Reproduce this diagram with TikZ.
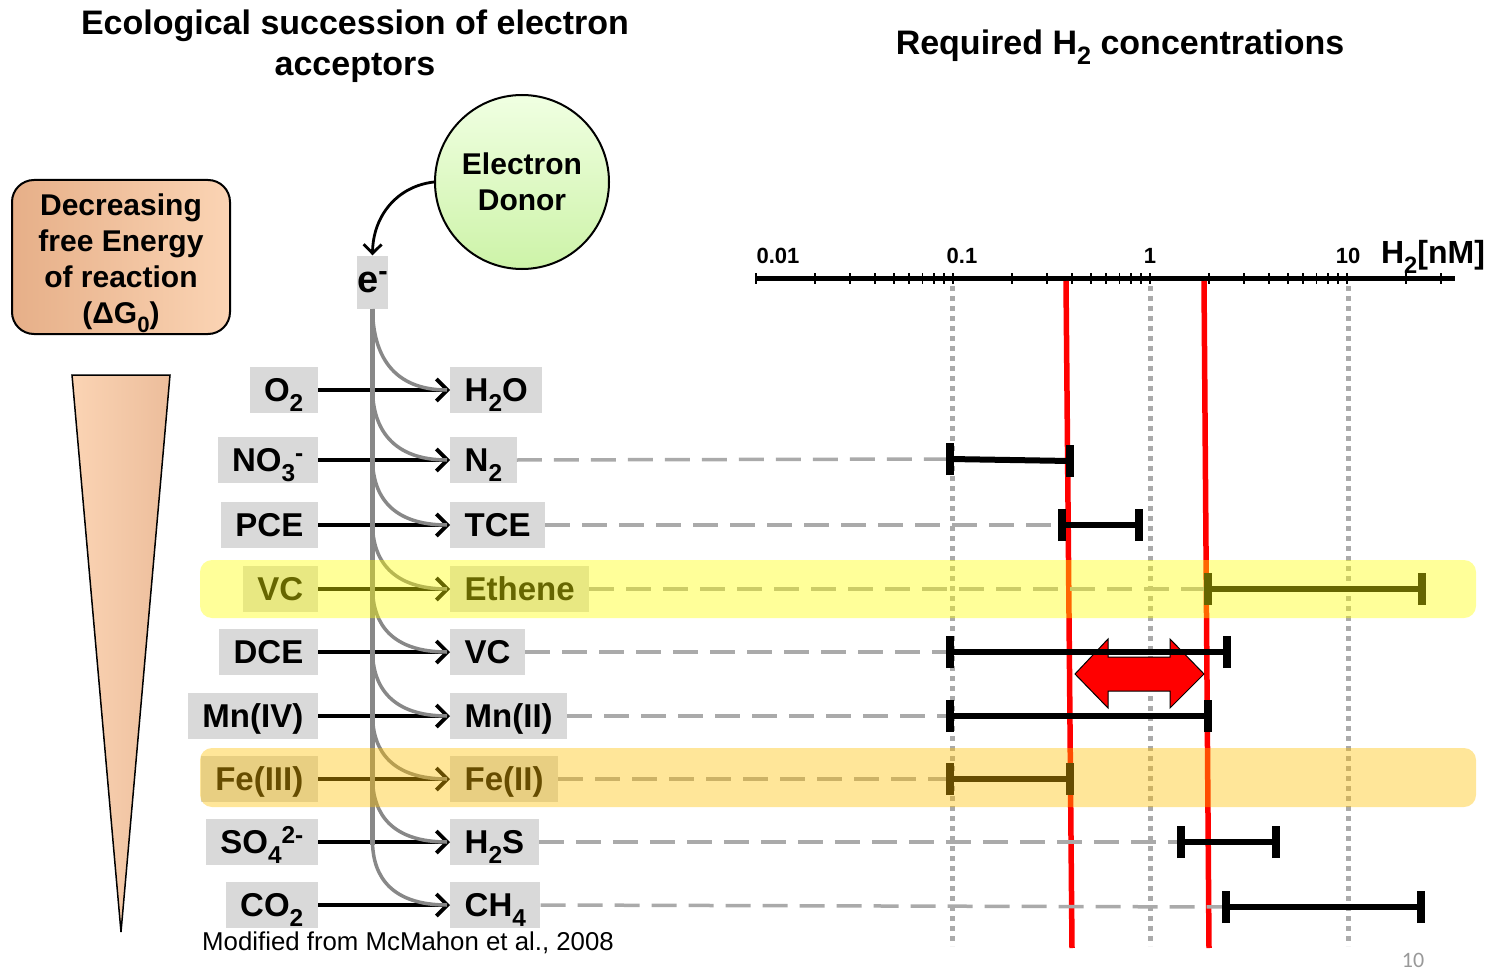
\documentclass[tikz,border=0pt]{standalone}
\usepackage{fontspec}
\setmainfont{Liberation Sans}
\newfontfamily\calfont{Carlito}
\usetikzlibrary{arrows.meta}
\newcommand\dn[1]{\raisebox{-0.3em}{\scalebox{0.74}{#1}}}
\newcommand\upx[1]{\raisebox{0.3em}{\scalebox{0.74}{#1}}}
\newcommand\fsz[2]{\fontsize{#1}{#2}\selectfont}
\definecolor{lgray}{HTML}{D9D9D9}
\definecolor{spinegray}{HTML}{888888}
\definecolor{dashgray}{HTML}{AAAAAA}
\definecolor{peachA}{HTML}{E6AF88}
\definecolor{peachB}{HTML}{FBD4B4}
\definecolor{peachC}{HTML}{ECBD9B}
\definecolor{greenA}{HTML}{F0FFE2}
\definecolor{greenB}{HTML}{CDF3A8}
\definecolor{hlyellow}{HTML}{FFFF00}
\definecolor{hlorange}{HTML}{FFC000}
\begin{document}
\begin{tikzpicture}[x=1pt,y=-1pt,
  lbl/.style={fill=lgray, font=\bfseries\fsz{33}{36}, text height=23.5pt, text depth=0pt,
    minimum height=46pt, inner xsep=14.5pt, inner ysep=0pt},
  flow/.style={line width=3.8pt, -{Straight Barb[length=11pt,width=22pt,line width=3.8pt]}},
  curv/.style={line width=3.5pt, spinegray},
  dsh/.style={line width=3.5pt, dashgray, dash pattern=on 25pt off 12pt},
  dotv/.style={line width=5pt, dashgray, dash pattern=on 5pt off 5pt},
  redl/.style={line width=5.5pt, red},
  rng/.style={line width=6pt},
  rngcap/.style={line width=8pt},
  hl/.style={rounded corners=12pt, fill opacity=0.4}]
\useasboundingbox (0,0) rectangle (1492,971);

% titles
\node[font=\bfseries\fsz{34}{41}, align=center] (T1) at (355,46) {Ecological succession of electron\\acceptors};
\node[font=\bfseries\fsz{34}{36}] (T2) at (1120,47) {Required H\dn{2} concentrations};

% energy box and triangle
\node[draw, line width=2pt, rounded corners=22pt, left color=peachA, right color=peachB,
  minimum width=218pt, minimum height=154pt] (B) at (121,257) {};
\node[align=center, font=\bfseries\fsz{30}{36}] (Bt) at (121,263) {Decreasing\\free Energy\\of reaction\\(ΔG\dn{0})};
\draw[black, line width=1.5pt, left color=peachB, right color=peachC] (72,375) -- (170,375) -- (121,932) -- cycle;

% electron donor
\node[draw, line width=2pt, circle, minimum size=174pt, top color=greenA, bottom color=greenB,
  align=center, font=\bfseries\fsz{30}{36}] (D) at (522,182) {Electron\\Donor};
\node[fill=lgray, minimum width=31pt, minimum height=53pt, inner sep=0pt, font=\bfseries\fsz{38}{40}] (e) at (372.5,282) {e\upx{-}};
\draw[line width=2.8pt, -{Straight Barb[length=9pt,width=18pt,line width=2.8pt]}]
  (D.west) .. controls (398,186) and (373,215) .. (e.north);

% grid lines (dotted)
\draw[dotv] (952,286) -- (952,946);
\draw[dotv] (1150,286) -- (1150,946);
\draw[dotv] (1348,286) -- (1348,946);

% axis
\draw[line width=5pt] (756,278) -- (1455,278);
\foreach \k in {0,1,2,3}{
  \foreach \m in {1,...,9}{
    \pgfmathsetmacro\xx{756+197*\k+197*ln(\m)/ln(10)}
    \ifdim\xx pt<1452pt
      \draw[line width=1.8pt] (\xx,273) -- (\xx,284);
    \fi
  }
}
\node[font=\bfseries\fsz{22}{24}] (a1) at (778,256) {0.01};
\node[font=\bfseries\fsz{22}{24}] (a2) at (962,256) {0.1};
\node[font=\bfseries\fsz{22}{24}] (a3) at (1150,256) {1};
\node[font=\bfseries\fsz{22}{24}] (a4) at (1348,256) {10};
\node[font=\bfseries\fsz{32}{34}] (a5) at (1433,257) {H\dn{2}[nM]};

% red threshold lines
\draw[redl] (1066,281) -- (1072,948);
\draw[redl] (1204,281) -- (1209,948);

% labels
\node[lbl,anchor=east] (L1) at (318,390) {O\dn{2}};
\node[lbl,anchor=east] (L2) at (318,460) {NO\dn{3}\upx{-}};
\node[lbl,anchor=east] (L3) at (318,525) {PCE};
\node[lbl,anchor=east] (L4) at (318,589) {VC};
\node[lbl,anchor=east] (L5) at (318,652) {DCE};
\node[lbl,anchor=east] (L6) at (318,716) {Mn(IV)};
\node[lbl,anchor=east] (L7) at (318,779) {Fe(III)};
\node[lbl,anchor=east] (L8) at (318,842) {SO\dn{4}\upx{2-}};
\node[lbl,anchor=east] (L9) at (318,905) {CO\dn{2}};
\node[lbl,anchor=west] (R1) at (450,390) {H\dn{2}O};
\node[lbl,anchor=west] (R2) at (450,460) {N\dn{2}};
\node[lbl,anchor=west] (R3) at (450,525) {TCE};
\node[lbl,anchor=west] (R4) at (450,589) {Ethene};
\node[lbl,anchor=west] (R5) at (450,652) {VC};
\node[lbl,anchor=west] (R6) at (450,716) {Mn(II)};
\node[lbl,anchor=west] (R7) at (450,779) {Fe(II)};
\node[lbl,anchor=west] (R8) at (450,842) {H\dn{2}S};
\node[lbl,anchor=west] (R9) at (450,905) {CH\dn{4}};

% range bar end points
\coordinate (b2a) at (950,459); \coordinate (b2b) at (1070,461);
\coordinate (b3a) at (1062,525); \coordinate (b3b) at (1139,525);
\coordinate (b4a) at (1208,589); \coordinate (b4b) at (1422,589);
\coordinate (b5a) at (950,652); \coordinate (b5b) at (1227,652);
\coordinate (b6a) at (950,716); \coordinate (b6b) at (1208,716);
\coordinate (b7a) at (950,779); \coordinate (b7b) at (1070,779);
\coordinate (b8a) at (1181,842); \coordinate (b8b) at (1276,842);
\coordinate (b9a) at (1226,907); \coordinate (b9b) at (1421,907);

% dashed leaders
\draw[dsh] (R2.east) -- (b2a);
\draw[dsh] (R3.east) -- (b3a);
\draw[dsh] (R4.east) -- (b4a);
\draw[dsh] (R5.east) -- (b5a);
\draw[dsh] (R6.east) -- (b6a);
\draw[dsh] (R7.east) -- (b7a);
\draw[dsh] (R8.east) -- (b8a);
\draw[dsh] (R9.east) -- (b9a);

% red double arrow
\draw[fill=red, line width=1pt] (1075,674) -- (1108,639) -- (1108,657) -- (1170,657) -- (1170,639)
  -- (1204,674) -- (1170,708) -- (1170,691) -- (1108,691) -- (1108,708) -- cycle;

% range bars
\foreach \i in {2,...,9}{
  \draw[rng] (b\i a) -- (b\i b);
  \draw[rngcap] ([yshift=-16pt]b\i a) -- ([yshift=16pt]b\i a);
  \draw[rngcap] ([yshift=-16pt]b\i b) -- ([yshift=16pt]b\i b);
}

% reaction arrows
\foreach \i in {1,...,9}{
  \draw[flow] (L\i.east) -- (R\i.west);
}

% electron spine and branches
\draw[line width=4.5pt, spinegray] (e.south) -- (372.5,845);
\draw[curv] (372.5,309) .. controls (373,354) and (392,390) .. ([xshift=-3pt]R1.west);
\draw[curv] (372.5,390) .. controls (373,428) and (392,460) .. ([xshift=-3pt]R2.west);
\draw[curv] (372.5,460) .. controls (373,496) and (392,525) .. ([xshift=-3pt]R3.west);
\draw[curv] (372.5,525) .. controls (373,560) and (392,589) .. ([xshift=-3pt]R4.west);
\draw[curv] (372.5,589) .. controls (373,624) and (392,652) .. ([xshift=-3pt]R5.west);
\draw[curv] (372.5,652) .. controls (373,687) and (392,716) .. ([xshift=-3pt]R6.west);
\draw[curv] (372.5,716) .. controls (373,751) and (392,779) .. ([xshift=-3pt]R7.west);
\draw[curv] (372.5,779) .. controls (373,814) and (392,842) .. ([xshift=-3pt]R8.west);
\draw[curv] (372.5,842) .. controls (373,877) and (392,905) .. ([xshift=-3pt]R9.west);

% highlights
\fill[hl, hlyellow] (200,560) rectangle (1476,618);
\fill[hl, hlorange] (200,748) rectangle (1476,807);

% citation and page number
\node[font=\fsz{25.8}{28}] (cite) at (408,943) {Modified from McMahon et al., 2008};
\node[font=\calfont\fsz{22}{24}, text=gray!80] (pg) at (1413,960) {10};
\end{tikzpicture}
\end{document}
